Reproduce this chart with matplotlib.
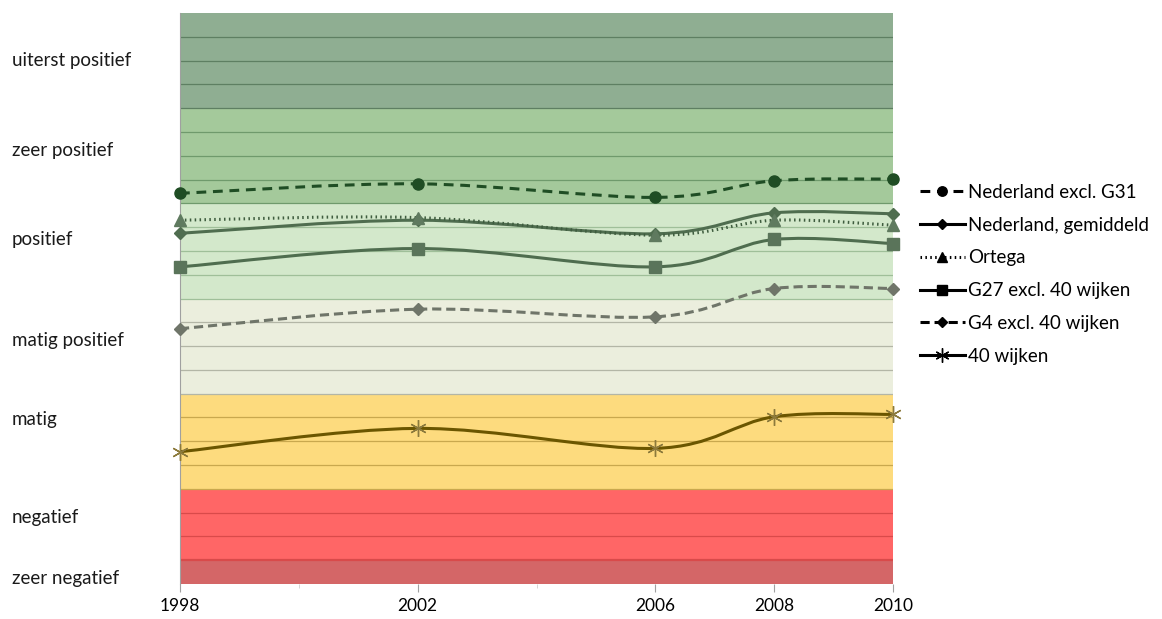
import numpy as np
import matplotlib
matplotlib.use("Agg")
import matplotlib.pyplot as plt
import matplotlib.transforms as mtransforms
from matplotlib.path import Path
from matplotlib.patches import PathPatch
from matplotlib.lines import Line2D

plt.rcParams['font.family'] = ['Lato', 'DejaVu Sans']

years = [1998, 2002, 2006, 2008, 2010]

# score per series (0 = bottom of "zeer negatief", 24 = top of "uiterst positief")
ned_excl_g31 = [16.42, 16.82, 16.25, 16.95, 17.02]
ned_gemiddeld = [14.74, 15.29, 14.72, 15.60, 15.56]
ortega = [15.29, 15.40, 14.66, 15.29, 15.08]
g27_excl_40 = [13.33, 14.10, 13.33, 14.48, 14.31]
g4_excl_40 = [10.73, 11.55, 11.23, 12.42, 12.42]
wijken_40 = [5.56, 6.54, 5.70, 7.03, 7.13]

series_names = ["Nederland excl. G31", "Nederland, gemiddeld", "Ortega",
                "G27 excl. 40 wijken", "G4 excl. 40 wijken", "40 wijken"]

band_names = ["zeer negatief", "negatief", "matig", "matig positief",
              "positief", "zeer positief", "uiterst positief"]
band_edges = [0, 1, 4, 8, 12, 16, 20, 24]
band_label_y = [0.25, 2.8, 6.9, 10.25, 14.5, 18.2, 22.0]

band_face = ["#d46667", "#ff6666", "#fddb7e", "#ebeedd",
             "#d3e8cb", "#a4c99b", "#8fae92"]
band_grid = ["#c94a4a", "#d94a4a", "#c9a84e", "#b3b6a6",
             "#9fbf99", "#6f9a6c", "#5e7f62"]


def smooth_path(xs, ys):
    # Excel-like smoothed line: cubic Bezier through the points
    pts = np.column_stack([xs, ys]).astype(float)
    n = len(pts)
    verts = [pts[0]]
    codes = [Path.MOVETO]
    for i in range(n - 1):
        p0 = pts[max(i - 1, 0)]
        p1 = pts[i]
        p2 = pts[i + 1]
        p3 = pts[min(i + 2, n - 1)]
        c1 = p1 + (p2 - p0) / 6
        c2 = p2 - (p3 - p1) / 6
        verts += [c1, c2, p2]
        codes += [Path.CURVE4] * 3
    return Path(verts, codes)


fig = plt.figure(figsize=(11.62, 6.19), dpi=100)
ax = fig.add_axes([180 / 1162, 35 / 619, 713 / 1162, 571 / 619])

# background bands and their grid lines
for i in range(len(band_names)):
    lo, hi = band_edges[i], band_edges[i + 1]
    ax.axhspan(lo, hi, color=band_face[i], lw=0, zorder=0)
    for yv in range(lo, hi):
        if yv == 0:
            continue
        lw = 1.6 if yv == 1 else 0.9
        ax.axhline(yv, color=band_grid[i], lw=lw, zorder=1)

# series: (values, line colour, marker colour, linestyle, marker, marker size)
styles = [
    (ned_excl_g31, "#1f4d24", "#1f4d24", (0, (3.2, 2.2)), "o", 8),
    (ned_gemiddeld, "#4f6d4f", "#4f6d4f", "-", "D", 6),
    (ortega, "#3e5c3e", "#5f7a5f", (0, (0.5, 1.1)), "^", 8),
    (g27_excl_40, "#4f6d4f", "#5a745a", "-", "s", 9),
    (g4_excl_40, "#6f7569", "#6f7569", (0, (3.0, 1.6)), "D", 6),
    (wijken_40, "#6b5600", "#8c7a3c", "-", (6, 2, 0), 12),
]

handles = []
for (vals, lc, mc, ls, mk, ms), name in zip(styles, series_names):
    patch = PathPatch(smooth_path(years, vals), facecolor="none", edgecolor=lc,
                      lw=2.2, linestyle=ls, zorder=3, capstyle="butt")
    ax.add_patch(patch)
    ax.plot(years, vals, linestyle="none", marker=mk, markersize=ms,
            color=mc, markeredgecolor=mc, markeredgewidth=1,
            zorder=4, clip_on=False)
    handles.append(Line2D([], [], color="black", lw=2.2, linestyle=ls,
                          marker=mk, markersize=ms * 0.85, markerfacecolor="black",
                          markeredgecolor="black", label=name))

ax.set_xlim(1998, 2010)
ax.set_ylim(0, 24)
ax.set_yticks([])
ax.set_xticks(years)
ax.set_xticks([2000, 2004], minor=True)
ax.tick_params(axis="x", which="major", length=6, color="#a0a0a0", labelsize=12.5, pad=4)
ax.tick_params(axis="x", which="minor", length=3, color="#d0d0d0")
for s in ["top", "right", "bottom"]:
    ax.spines[s].set_visible(False)
ax.spines["left"].set_color("#a0a0a0")
ax.spines["left"].set_linewidth(0.8)

# band labels on the left
trans = mtransforms.blended_transform_factory(fig.transFigure, ax.transData)
for name, yl in zip(band_names, band_label_y):
    ax.text(12 / 1162, yl, name, transform=trans, fontsize=13.5, ha="left",
            va="center", color="#1a1a1a")

ax.legend(handles=handles, loc="upper left", bbox_to_anchor=(920 / 1162, 1 - 184 / 619),
          bbox_transform=fig.transFigure, frameon=False, fontsize=13.5,
          handlelength=2.4, handletextpad=0.15, labelspacing=0.84,
          borderpad=0, borderaxespad=0)

fig.savefig("out.png", dpi=100)
